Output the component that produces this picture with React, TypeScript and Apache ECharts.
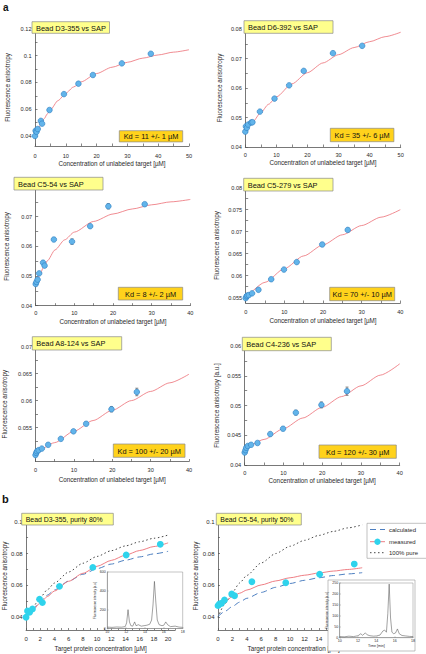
import React, { useEffect, useRef } from "react";
import * as echarts from "echarts";

const FONT = '"Liberation Sans", Arial, Helvetica, sans-serif';

// ---------------- panel a data ----------------
const a1X = [0, 0.2, 0.5, 0.9, 1.9, 2.3, 4.7, 9.4, 14.1, 18.8, 28.2, 37.6];
const a1Y = [0.04, 0.0439, 0.0431, 0.0452, 0.0513, 0.0492, 0.0594, 0.0713, 0.0791, 0.0856, 0.0943, 0.1015];
const a1Err = [0.0004, 0.0004, 0.0004, 0.0004, 0.0004, 0.0004, 0.0004, 0.0004, 0.0004, 0.0004, 0.0005, 0.0005];
const a1FitX = [0, 1, 2, 3, 4, 5, 7.5, 10, 12.5, 15, 20, 25, 30, 35, 40, 45, 50];
const a1FitY = [0.04, 0.0448, 0.0491, 0.053, 0.0565, 0.0596, 0.0665, 0.072, 0.0766, 0.0805, 0.0867, 0.0914, 0.0951, 0.0982, 0.1006, 0.1027, 0.1045];

const a2X = [0, 0.2, 0.5, 0.9, 1.9, 2.3, 4.7, 9.4, 14.1, 18.8, 28.2, 37.6];
const a2Y = [0.0452, 0.047, 0.0465, 0.0476, 0.0483, 0.0484, 0.052, 0.0564, 0.0609, 0.0658, 0.0718, 0.0743];
const a2Err = [0.0003, 0.0003, 0.0003, 0.0003, 0.0003, 0.0003, 0.0003, 0.0003, 0.0003, 0.0003, 0.0004, 0.0003];
const a2FitX = [0, 2.5, 5, 7.5, 10, 15, 20, 25, 30, 35, 40, 45, 50];
const a2FitY = [0.0455, 0.0487, 0.0517, 0.0545, 0.057, 0.0614, 0.0652, 0.0685, 0.0713, 0.0737, 0.0757, 0.0774, 0.0789];

const a3X = [0, 0.2, 0.5, 0.9, 1.9, 2.3, 4.7, 9.4, 14.1, 18.8, 28.2];
const a3Y = [0.0473, 0.048, 0.0488, 0.0509, 0.0545, 0.0535, 0.0623, 0.0616, 0.0668, 0.0735, 0.0742];
const a3Err = [0.0004, 0.0004, 0.0004, 0.0005, 0.0006, 0.0005, 0.0005, 0.0009, 0.0006, 0.0009, 0.0004];
const a3FitX = [0, 1, 2, 3, 5, 7.5, 10, 15, 20, 25, 30, 35, 40];
const a3FitY = [0.047, 0.0502, 0.0529, 0.0551, 0.0588, 0.0622, 0.0648, 0.0684, 0.0709, 0.0726, 0.074, 0.075, 0.0758];

const a4X = [0, 0.2, 0.4, 0.8, 1.65, 3.3, 6.6, 9.9, 13.2, 19.8, 26.4];
const a4Y = [0.0549, 0.0553, 0.0555, 0.0556, 0.056, 0.0568, 0.0592, 0.0614, 0.0631, 0.0671, 0.0704];
const a4Err = [0.0002, 0.0002, 0.0002, 0.0002, 0.0002, 0.0002, 0.0003, 0.0003, 0.0003, 0.0004, 0.0004];
const a4FitX = [0, 5, 10, 15, 20, 25, 30, 35, 40];
const a4FitY = [0.0549, 0.0585, 0.0616, 0.0645, 0.067, 0.0693, 0.0714, 0.0733, 0.075];

const a5X = [0, 0.2, 0.4, 0.8, 1.65, 3.3, 6.6, 9.9, 13.2, 19.8, 26.4];
const a5Y = [0.0499, 0.0503, 0.0506, 0.0508, 0.0511, 0.0518, 0.0529, 0.0543, 0.0557, 0.0584, 0.0616];
const a5Err = [0.0002, 0.0002, 0.0002, 0.0002, 0.0002, 0.0002, 0.0003, 0.0003, 0.0003, 0.0005, 0.0007];
const a5FitX = [0, 5, 10, 15, 20, 25, 30, 35, 40];
const a5FitY = [0.05, 0.0522, 0.0543, 0.0563, 0.0582, 0.06, 0.0617, 0.0633, 0.0649];

const a6X = [0, 0.2, 0.4, 0.8, 1.65, 3.3, 6.6, 9.9, 13.2, 19.8, 26.4];
const a6Y = [0.0421, 0.0425, 0.0429, 0.0432, 0.0434, 0.0437, 0.0452, 0.0461, 0.0488, 0.0501, 0.0524];
const a6Err = [0.0002, 0.0002, 0.0002, 0.0002, 0.0002, 0.0002, 0.0003, 0.0003, 0.0004, 0.0005, 0.0007];
const a6FitX = [0, 5, 10, 15, 20, 25, 30, 35, 40];
const a6FitY = [0.0425, 0.0443, 0.0461, 0.0479, 0.0497, 0.0515, 0.0533, 0.0551, 0.057];

// ---------------- panel b data ----------------
const b1X = [0, 0.2, 0.5, 0.9, 1.9, 2.3, 4.7, 9.4, 14.1, 18.9];
const b1Y = [0.04, 0.0439, 0.0431, 0.0452, 0.0513, 0.0492, 0.0594, 0.0713, 0.0791, 0.0858];
const bCurveX = [0, 1, 2, 3, 4, 6, 8, 10, 12, 14, 16, 18, 20];
const b1Measured = [0.04, 0.0448, 0.0491, 0.053, 0.0565, 0.0626, 0.0676, 0.072, 0.0757, 0.079, 0.0819, 0.0844, 0.0867];
const b1Calculated = [0.04, 0.0454, 0.05, 0.0539, 0.0572, 0.0627, 0.067, 0.0705, 0.0734, 0.0758, 0.0779, 0.0798, 0.0814];
const b1Pure = [0.04, 0.0467, 0.0524, 0.0573, 0.0615, 0.0684, 0.0739, 0.0782, 0.0818, 0.0848, 0.0874, 0.0896, 0.0916];

const b2X = [0, 0.2, 0.5, 0.9, 1.9, 2.3, 4.7, 9.4, 14.1, 18.9];
const b2Y = [0.0473, 0.0483, 0.0488, 0.0508, 0.0546, 0.0535, 0.0623, 0.0617, 0.067, 0.0734];
const b2Measured = [0.047, 0.0502, 0.0529, 0.0551, 0.0571, 0.0603, 0.0628, 0.0648, 0.0664, 0.0678, 0.069, 0.07, 0.0711];
const b2Calculated = [0.0405, 0.0438, 0.0468, 0.0495, 0.0519, 0.0556, 0.0588, 0.0612, 0.0632, 0.0648, 0.0662, 0.0672, 0.068];
const b2Pure = [0.04, 0.0486, 0.0557, 0.0615, 0.0663, 0.0741, 0.08, 0.0846, 0.0883, 0.0914, 0.0939, 0.0961, 0.098];

// chromatogram insets
const chrom1T = [10, 10.5, 11, 11.5, 11.9, 12.05, 12.2, 12.35, 12.5, 12.7, 12.9, 13.05, 13.3, 13.6, 13.9, 14.2, 14.5, 14.7, 14.85, 15.0, 15.15, 15.3, 15.5, 15.8, 16.0, 16.2, 16.4, 16.7, 17.2, 17.6, 18];
const chrom1I = [15, 12, 16, 14, 20, 60, 200, 70, 30, 25, 70, 30, 40, 25, 30, 35, 45, 90, 250, 500, 280, 90, 40, 30, 35, 70, 40, 20, 25, 15, 12];
const chrom2T = [10, 10.5, 11, 11.5, 12, 12.3, 12.5, 12.8, 13.0, 13.3, 13.7, 14.0, 14.4, 14.7, 14.9, 15.1, 15.25, 15.4, 15.55, 15.7, 15.9, 16.1, 16.3, 16.5, 16.8, 17.2, 17.6, 18];
const chrom2I = [5, 4, 7, 5, 9, 18, 11, 22, 13, 9, 7, 8, 12, 30, 35, 25, 110, 245, 90, 25, 18, 22, 40, 18, 10, 8, 6, 5];

// ---------------- labels / ticks ----------------
const panelTitles = ["Bead D3-355 vs SAP", "Bead D6-392 vs SAP", "Bead C5-54 vs SAP", "Bead C5-279 vs SAP", "Bead A8-124 vs SAP", "Bead C4-236 vs SAP"];
const kdLabels = ["Kd = 11 +/- 1 µM", "Kd = 35 +/- 6 µM", "Kd = 8 +/- 2 µM", "Kd = 70 +/- 10 µM", "Kd = 100 +/- 20 µM", "Kd = 120 +/- 30 µM"];
const bTitles = ["Bead D3-355, purity 80%", "Bead C5-54, purity 50%"];
const legendNames = ["calculated", "measured", "100% pure"];

const xLab50 = [0, 10, 20, 30, 40, 50];
const xTick50 = [0, 5, 10, 15, 20, 25, 30, 35, 40, 45, 50];
const xLab40 = [0, 10, 20, 30, 40];
const xTick40 = [0, 5, 10, 15, 20, 25, 30, 35, 40];
const yLabA1 = [0.04, 0.06, 0.08, 0.1, 0.12];
const yTickA1 = [0.04, 0.05, 0.06, 0.07, 0.08, 0.09, 0.1, 0.11, 0.12];
const yLabA2 = [0.04, 0.05, 0.06, 0.07, 0.08];
const yTickA2 = [0.04, 0.045, 0.05, 0.055, 0.06, 0.065, 0.07, 0.075, 0.08];
const yLabA3 = [0.04, 0.05, 0.06, 0.07];
const yLabA4 = [0.055, 0.06, 0.065, 0.07, 0.075, 0.08];
const yTickA4 = [0.055, 0.0575, 0.06, 0.0625, 0.065, 0.0675, 0.07, 0.0725, 0.075, 0.0775, 0.08];
const yLabA5 = [0.055, 0.06, 0.065, 0.07];
const yTickA5 = [0.05, 0.0525, 0.055, 0.0575, 0.06, 0.0625, 0.065, 0.0675, 0.07];
const yLabA6 = [0.04, 0.045, 0.05, 0.055, 0.06];
const yTickA6 = [0.04, 0.0425, 0.045, 0.0475, 0.05, 0.0525, 0.055, 0.0575, 0.06];
const xLabB = [0, 2, 4, 6, 8, 10, 12, 14, 16, 18, 20];
const xTickB = [0, 1, 2, 3, 4, 5, 6, 7, 8, 9, 10, 11, 12, 13, 14, 15, 16, 17, 18, 19, 20, 21];
const yLabB = [0.04, 0.06, 0.08, 0.1];
const yTickB = [0.04, 0.05, 0.06, 0.07, 0.08, 0.09, 0.1];

const fmt = (v: any) => String(parseFloat(Number(v).toFixed(4)));
const pairs = (xs: number[], ys: number[]) => xs.map((x, i) => [x, ys[i]]);

const AX = "#555";
const TXT = "#2a2a2a";

function xAxisOf(gi: number, o: any) {
  return {
    type: "value",
    gridIndex: gi,
    min: o.min,
    max: o.max,
    name: o.name,
    nameLocation: "middle",
    nameGap: o.nameGap,
    nameTextStyle: { fontFamily: FONT, fontSize: o.nameSize || 6.3, color: TXT },
    axisLine: { show: true, onZero: false, lineStyle: { color: AX, width: 0.8 } },
    axisTick: { show: true, inside: true, length: o.tickLen || 2.5, customValues: o.ticks, lineStyle: { color: AX, width: 0.7 } },
    axisLabel: { customValues: o.labels, fontFamily: FONT, fontSize: o.labelSize || 5.6, color: TXT, margin: o.margin, formatter: fmt },
    splitLine: { show: false },
    z: o.z || 0,
  };
}

function yAxisOf(gi: number, o: any) {
  return {
    type: "value",
    gridIndex: gi,
    min: o.min,
    max: o.max,
    name: o.name,
    nameLocation: "middle",
    nameRotate: 90,
    nameGap: o.nameGap,
    nameTextStyle: { fontFamily: FONT, fontSize: o.nameSize || 6.3, color: TXT },
    axisLine: { show: true, onZero: false, lineStyle: { color: AX, width: 0.8 } },
    axisTick: { show: true, inside: true, length: o.tickLen || 2.5, customValues: o.ticks, lineStyle: { color: AX, width: 0.7 } },
    axisLabel: { customValues: o.labels, fontFamily: FONT, fontSize: o.labelSize || 5.6, color: TXT, margin: o.margin || 3.5, formatter: fmt },
    splitLine: { show: false },
    z: o.z || 0,
  };
}

function errSeries(gi: number, xs: number[], ys: number[], es: number[]) {
  return {
    type: "custom",
    xAxisIndex: gi,
    yAxisIndex: gi,
    z: 3,
    silent: true,
    data: xs.map((x, i) => [x, ys[i] - es[i], ys[i] + es[i]]),
    encode: { x: 0, y: [1, 2] },
    renderItem: (params: any, api: any) => {
      const x = api.value(0);
      const lo = api.coord([x, api.value(1)]);
      const hi = api.coord([x, api.value(2)]);
      const c = 1.5;
      const style = { stroke: "#444", lineWidth: 0.6 };
      return {
        type: "group",
        children: [
          { type: "line", shape: { x1: lo[0], y1: lo[1], x2: hi[0], y2: hi[1] }, style },
          { type: "line", shape: { x1: lo[0] - c, y1: lo[1], x2: lo[0] + c, y2: lo[1] }, style },
          { type: "line", shape: { x1: hi[0] - c, y1: hi[1], x2: hi[0] + c, y2: hi[1] }, style },
        ],
      };
    },
  };
}

function lineSeries(gi: number, xs: number[], ys: number[], color: string, type: any, width: number, z = 2) {
  return {
    type: "line",
    xAxisIndex: gi,
    yAxisIndex: gi,
    data: pairs(xs, ys),
    showSymbol: false,
    smooth: 0.25,
    smoothMonotone: "x",
    silent: true,
    z,
    lineStyle: { color, width, type },
  };
}

function scatterA(gi: number, xs: number[], ys: number[]) {
  return {
    type: "scatter",
    xAxisIndex: gi,
    yAxisIndex: gi,
    data: pairs(xs, ys),
    symbol: "circle",
    symbolSize: 5.6,
    silent: true,
    z: 4,
    itemStyle: { color: "#62b4ea", borderColor: "#2c7cc0", borderWidth: 0.6, opacity: 1 },
  };
}

function scatterB(gi: number, xs: number[], ys: number[]) {
  return {
    type: "scatter",
    xAxisIndex: gi,
    yAxisIndex: gi,
    data: pairs(xs, ys),
    symbol: "circle",
    symbolSize: 6.8,
    silent: true,
    z: 4,
    itemStyle: { color: "#2fd3ec", opacity: 1 },
  };
}

function boxEl(x: number, y: number, w: number, h: number, fill: string, text: string, center: boolean, fs: number) {
  return [
    { type: "rect", shape: { x, y, width: w, height: h }, style: { fill, stroke: "#8a8a8a", lineWidth: 0.7 }, z: 20, silent: true },
    {
      type: "text",
      x: center ? x + w / 2 : x + 4,
      y: y + h / 2 + 0.5,
      z: 21,
      silent: true,
      style: { text, fontFamily: FONT, fontSize: fs, fill: "#111", align: center ? "center" : "left", verticalAlign: "middle" },
    },
  ];
}

const RED = "#ec6f76";
const BLUE = "#4d7fc0";

function buildOption() {
  const grids: any[] = [];
  const xAxes: any[] = [];
  const yAxes: any[] = [];
  const series: any[] = [];

  const aPanels = [
    { g: [35, 29, 154, 117], x: [0, 50], y: [0.0325, 0.12], xl: xLab50, xt: xTick50, yl: yLabA1, yt: yTickA1, xm: 6.5, xng: 14, yng: 24.5, yname: "Fluorescence anisotropy", X: a1X, Y: a1Y, E: a1Err, FX: a1FitX, FY: a1FitY },
    { g: [245.3, 29, 155.4, 118], x: [0, 50], y: [0.04, 0.08], xl: xLab50, xt: xTick50, yl: yLabA2, yt: yTickA2, xm: 4.5, xng: 12.5, yng: 23, yname: "Fluorescence anisotropy", X: a2X, Y: a2Y, E: a2Err, FX: a2FitX, FY: a2FitY },
    { g: [35.7, 187, 154.6, 118.7], x: [0, 40], y: [0.04, 0.08], xl: xLab40, xt: xTick40, yl: yLabA3, yt: yTickA2, xm: 4.5, xng: 13, yng: 26, yname: "Fluorescence anisotropy", X: a3X, Y: a3Y, E: a3Err, FX: a3FitX, FY: a3FitY },
    { g: [245.7, 187.7, 154.6, 115.3], x: [0, 40], y: [0.0538, 0.08], xl: xLab40, xt: xTick40, yl: yLabA4, yt: yTickA4, xm: 5.5, xng: 14, yng: 26, yname: "Fluorescence anisotropy", X: a4X, Y: a4Y, E: a4Err, FX: a4FitX, FY: a4FitY },
    { g: [34.3, 346.7, 154.7, 114.8], x: [0, 40], y: [0.0487, 0.07], xl: xLab40, xt: xTick40, yl: yLabA5, yt: yTickA5, xm: 5.5, xng: 15, yng: 28.5, yname: "Fluorescence anisotropy", X: a5X, Y: a5Y, E: a5Err, FX: a5FitX, FY: a5FitY },
    { g: [244.7, 346, 155, 119], x: [0, 40], y: [0.04, 0.06], xl: xLab40, xt: xTick40, yl: yLabA6, yt: yTickA6, xm: 4.5, xng: 12.5, yng: 25.5, yname: "Fluorescence anisotropy [a.u.]", X: a6X, Y: a6Y, E: a6Err, FX: a6FitX, FY: a6FitY },
  ];

  aPanels.forEach((p, i) => {
    grids.push({ left: p.g[0], top: p.g[1], width: p.g[2], height: p.g[3] });
    xAxes.push(xAxisOf(i, { min: p.x[0], max: p.x[1], labels: p.xl, ticks: p.xt, margin: p.xm, nameGap: p.xng, name: "Concentration of unlabeled target [µM]" }));
    yAxes.push(yAxisOf(i, { min: p.y[0], max: p.y[1], labels: p.yl, ticks: p.yt, nameGap: p.yng, name: p.yname }));
    series.push(lineSeries(i, p.FX, p.FY, RED, "solid", 0.8));
    series.push(errSeries(i, p.X, p.Y, p.E));
    series.push(scatterA(i, p.X, p.Y));
  });

  const bPanels = [
    { g: [23, 521.7, 152.2, 108.3], yng: 14.5, X: b1X, Y: b1Y, M: b1Measured, C: b1Calculated, P: b1Pure },
    { g: [218, 521.7, 151.4, 108.3], yng: 17.5, X: b2X, Y: b2Y, M: b2Measured, C: b2Calculated, P: b2Pure },
  ];
  bPanels.forEach((p, k) => {
    const i = 6 + k;
    grids.push({ left: p.g[0], top: p.g[1], width: p.g[2], height: p.g[3] });
    xAxes.push(xAxisOf(i, { min: 0, max: 21, labels: xLabB, ticks: xTickB, margin: 5.5, nameGap: 15.5, name: "Target protein concentration [µM]", labelSize: 6, nameSize: 6.3, tickLen: 2 }));
    yAxes.push(yAxisOf(i, { min: 0.032, max: 0.1, labels: yLabB, ticks: yTickB, nameGap: p.yng, name: "Fluorescence anisotropy", labelSize: 6, nameSize: 6.3, tickLen: 2 }));
    series.push(lineSeries(i, bCurveX, p.P, "#333", [1.5, 2.5], 0.9));
    series.push(lineSeries(i, bCurveX, p.C, BLUE, [6, 4], 1));
    series.push(lineSeries(i, bCurveX, p.M, RED, "solid", 0.9));
    series.push(scatterB(i, p.X, p.Y));
  });

  // insets
  const insets = [
    { g: [107.3, 572, 75.4, 56.5], yMax: 600, yInt: 200, T: chrom1T, I: chrom1I, xname: "" },
    { g: [339.7, 583, 73.3, 54.7], yMax: 250, yInt: 50, T: chrom2T, I: chrom2I, xname: "Time [min]" },
  ];
  insets.forEach((p, k) => {
    const i = 8 + k;
    grids.push({ left: p.g[0], top: p.g[1], width: p.g[2], height: p.g[3], show: true, borderColor: "#888", borderWidth: 0.5, backgroundColor: "transparent", z: 11 });
    xAxes.push({
      type: "value", gridIndex: i, min: 10, max: 18, interval: 2, z: 11,
      name: p.xname, nameLocation: "middle", nameGap: 6, nameTextStyle: { fontFamily: FONT, fontSize: 3.6, color: TXT },
      axisLine: { show: true, lineStyle: { color: "#777", width: 0.5 } },
      axisTick: { show: true, inside: true, length: 1.3, lineStyle: { color: "#777", width: 0.4 } },
      axisLabel: { fontFamily: FONT, fontSize: 3.6, color: TXT, margin: 1.5 },
      splitLine: { show: false },
    });
    yAxes.push({
      type: "value", gridIndex: i, min: 0, max: p.yMax, interval: p.yInt, z: 11,
      name: "Fluorescence intensity [a.u.]", nameLocation: "middle", nameRotate: 90, nameGap: 8, nameTextStyle: { fontFamily: FONT, fontSize: 3, color: TXT },
      axisLine: { show: true, lineStyle: { color: "#777", width: 0.5 } },
      axisTick: { show: true, inside: true, length: 1.3, lineStyle: { color: "#777", width: 0.4 } },
      axisLabel: { fontFamily: FONT, fontSize: 3.6, color: TXT, margin: 1.5 },
      splitLine: { show: false },
    });
    series.push({
      type: "line", xAxisIndex: i, yAxisIndex: i, data: pairs(p.T, p.I), showSymbol: false, silent: true, z: 12,
      lineStyle: { color: "#555", width: 0.55 },
    });
  });

  const graphic: any[] = [];
  // inset backgrounds
  graphic.push({ type: "rect", shape: { x: 107.3, y: 572, width: 75.4, height: 56.5 }, style: { fill: "#fff" }, z: 10, silent: true });
  graphic.push({ type: "rect", shape: { x: 328, y: 580, width: 87, height: 71 }, style: { fill: "#fff", stroke: "#999", lineWidth: 0.6 }, z: 10, silent: true });

  // panel a title boxes
  const titleRects = [
    [32, 21.7, 77.5, 11.6],
    [244, 20.7, 89, 12.6],
    [14, 177.3, 89, 12.7],
    [243.7, 178.3, 89.3, 12.7],
    [32.3, 336.7, 89.4, 13.3],
    [242.3, 337.3, 89, 13.4],
  ];
  titleRects.forEach((r, i) => graphic.push(...boxEl(r[0], r[1], r[2], r[3], "#ffff8c", panelTitles[i], false, 7.4)));
  const kdRects = [
    [119.3, 130.7, 63.4, 11.2],
    [330.3, 128.3, 63.6, 13.4],
    [118.3, 287.3, 64.4, 12.7],
    [329.7, 287.3, 65, 13.4],
    [113.3, 444, 71.7, 13.3],
    [319, 445, 77.3, 13.3],
  ];
  kdRects.forEach((r, i) => graphic.push(...boxEl(r[0], r[1], r[2], r[3], "#ffd21c", kdLabels[i], true, 7.4)));
  // panel b title boxes
  graphic.push(...boxEl(21.7, 513.3, 91.6, 11.7, "#ffff8c", bTitles[0], false, 6.9));
  graphic.push(...boxEl(216.3, 513.3, 85, 11.7, "#ffff8c", bTitles[1], false, 6.9));

  // legend (panel b right)
  graphic.push({ type: "rect", shape: { x: 367, y: 523.3, width: 60, height: 35 }, style: { fill: "#fff", stroke: "#999", lineWidth: 0.6 }, z: 20, silent: true });
  const ly = [529.5, 541.7, 552.7];
  graphic.push({ type: "line", shape: { x1: 370, y1: ly[0], x2: 385, y2: ly[0] }, style: { stroke: BLUE, lineWidth: 1, lineDash: [6, 4] }, z: 21, silent: true });
  graphic.push({ type: "line", shape: { x1: 370, y1: ly[1], x2: 385, y2: ly[1] }, style: { stroke: RED, lineWidth: 0.9 }, z: 21, silent: true });
  graphic.push({ type: "circle", shape: { cx: 377.5, cy: ly[1], r: 3.2 }, style: { fill: "#2fd3ec" }, z: 22, silent: true });
  graphic.push({ type: "line", shape: { x1: 370, y1: ly[2], x2: 385, y2: ly[2] }, style: { stroke: "#333", lineWidth: 0.9, lineDash: [1.5, 2.5] }, z: 21, silent: true });
  legendNames.forEach((t, i) =>
    graphic.push({ type: "text", x: 389, y: ly[i], z: 21, silent: true, style: { text: t, fontFamily: FONT, fontSize: 6, fill: TXT, align: "left", verticalAlign: "middle" } })
  );

  // figure letters
  graphic.push({ type: "text", x: 3, y: 2, z: 21, silent: true, style: { text: "a", fontFamily: FONT, fontSize: 10, fontWeight: "bold", fill: "#111" } });
  graphic.push({ type: "text", x: 2, y: 493, z: 21, silent: true, style: { text: "b", fontFamily: FONT, fontSize: 11, fontWeight: "bold", fill: "#111" } });

  return {
    animation: false,
    backgroundColor: "#ffffff",
    textStyle: { fontFamily: FONT },
    grid: grids,
    xAxis: xAxes,
    yAxis: yAxes,
    series,
    graphic,
  };
}

export default function App() {
  const ref = useRef<HTMLDivElement>(null);
  useEffect(() => {
    document.body.style.margin = "0";
    if (!ref.current) return;
    const chart = echarts.init(ref.current, undefined, { renderer: "svg" });
    chart.setOption(buildOption() as any);
    return () => chart.dispose();
  }, []);
  return <div ref={ref} style={{ width: 426, height: 654 }} />;
}
